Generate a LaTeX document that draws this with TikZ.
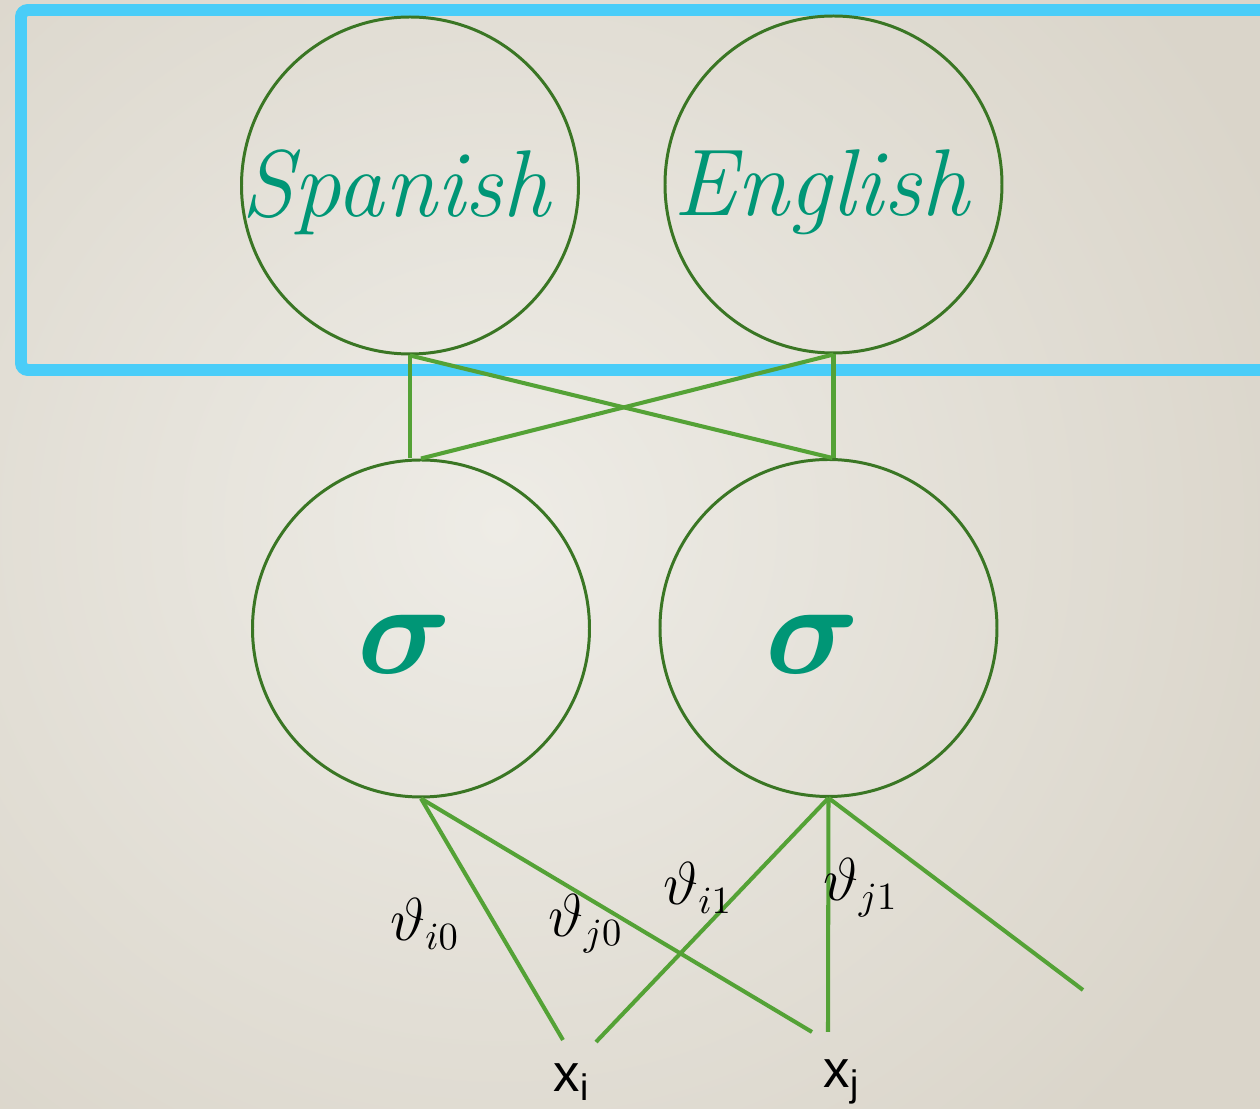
\documentclass[tikz,border=0pt]{standalone}
\usepackage{amsmath}
\usepackage{amssymb}
\usepackage{bm}
\usepackage{fontspec}
\newfontfamily\inputfont{Liberation Sans}
\usepackage{tikz}
\usetikzlibrary{positioning}
\definecolor{bglight}{RGB}{238,236,230}
\definecolor{bgdark}{RGB}{218,213,202}
\definecolor{boxblue}{RGB}{74,205,248}
\definecolor{ringgreen}{RGB}{58,118,36}
\definecolor{wiregreen}{RGB}{84,162,54}
\definecolor{wordteal}{RGB}{0,150,118}
\tikzset{
    unitcircle/.style={circle, draw=ringgreen, line width=0.85pt,
        minimum size=3.37cm, inner sep=0pt},
    unittext/.style={text=wordteal, inner sep=0pt},
    sigmatext/.style={unittext, font=\fontsize{24.88}{28}\selectfont,
        scale=1.5, transform shape},
    wire/.style={draw=wiregreen, line width=1.15pt},
    weightlabel/.style={inner sep=0pt, font=\fontsize{16}{18}\selectfont},
    inputlabel/.style={inner sep=0pt, font=\inputfont\fontsize{15}{18}\selectfont}
}

\begin{document}
\begin{tikzpicture}
        \useasboundingbox (0,0) rectangle (12.6,-11.09);
        \clip (0,0) rectangle (12.6,-11.09);
        \shade[inner color=bglight, outer color=bgdark]
            (-3.5,3) rectangle (13.5,-13.5);

        % language layer
        \draw[boxblue, line width=3.4pt, rounded corners=2pt]
            (0.21,-0.10) rectangle (13.2,-3.70);
        \node[unitcircle] (spanish) at (4.10,-1.855) {};
        \node[unitcircle] (english) at (8.335,-1.845) {};
        \node[unittext, font=\itshape\fontsize{27}{30}\selectfont]
            (spanishtxt) at (3.96,-1.92) {Spanish};
        \node[unittext, font=\itshape\fontsize{27}{30}\selectfont]
            (englishtxt) at (8.21,-1.92) {English};

        % sigmoid layer
        \node[unitcircle] (sigleft) at (4.21,-6.285) {};
        \node[unitcircle] (sigright) at (8.285,-6.28) {};
        \node[sigmatext] (sigmaleft) at (4.05,-6.44) {$\bm{\sigma}$};
        \node[sigmatext] (sigmaright) at (8.13,-6.44) {$\bm{\sigma}$};

        % inputs
        \node[inputlabel] (xi) at (5.72,-10.82) {x\textsubscript{i}};
        \node[inputlabel] (xj) at (8.42,-10.82) {x\textsubscript{j}};
        \coordinate (xiin0) at (5.63,-10.40);
        \coordinate (xiin1) at (5.96,-10.42);
        \coordinate (xjin0) at (8.12,-10.32);
        \coordinate (xjin1) at (8.28,-10.32);
        \coordinate (xkin1) at (10.83,-9.90);

        \draw[wire] (spanish.south) -- (spanish.south |- sigleft.north);
        \draw[wire] (spanish.south) -- ([xshift=0.04cm]sigright.north);
        \draw[wire] (english.south) -- (english.south |- sigright.north);
        \draw[wire] (english.south) -- (sigleft.north);

        \draw[wire] (sigleft.south) -- (xiin0);
        \draw[wire] (sigleft.south) -- (xjin0);
        \draw[wire] (sigright.south) -- (xiin1);
        \draw[wire] (sigright.south) -- (xjin1);
        \draw[wire] (sigright.south) -- (xkin1);

        % weights
        \node[weightlabel] (wi0) at (4.25,-9.24) {$\vartheta_{i0}$};
        \node[weightlabel] (wj0) at (5.86,-9.24) {$\vartheta_{j0}$};
        \node[weightlabel] (wi1) at (6.98,-8.88) {$\vartheta_{i1}$};
        \node[weightlabel] (wj1) at (8.61,-8.88) {$\vartheta_{j1}$};
    \end{tikzpicture}
\end{document}
